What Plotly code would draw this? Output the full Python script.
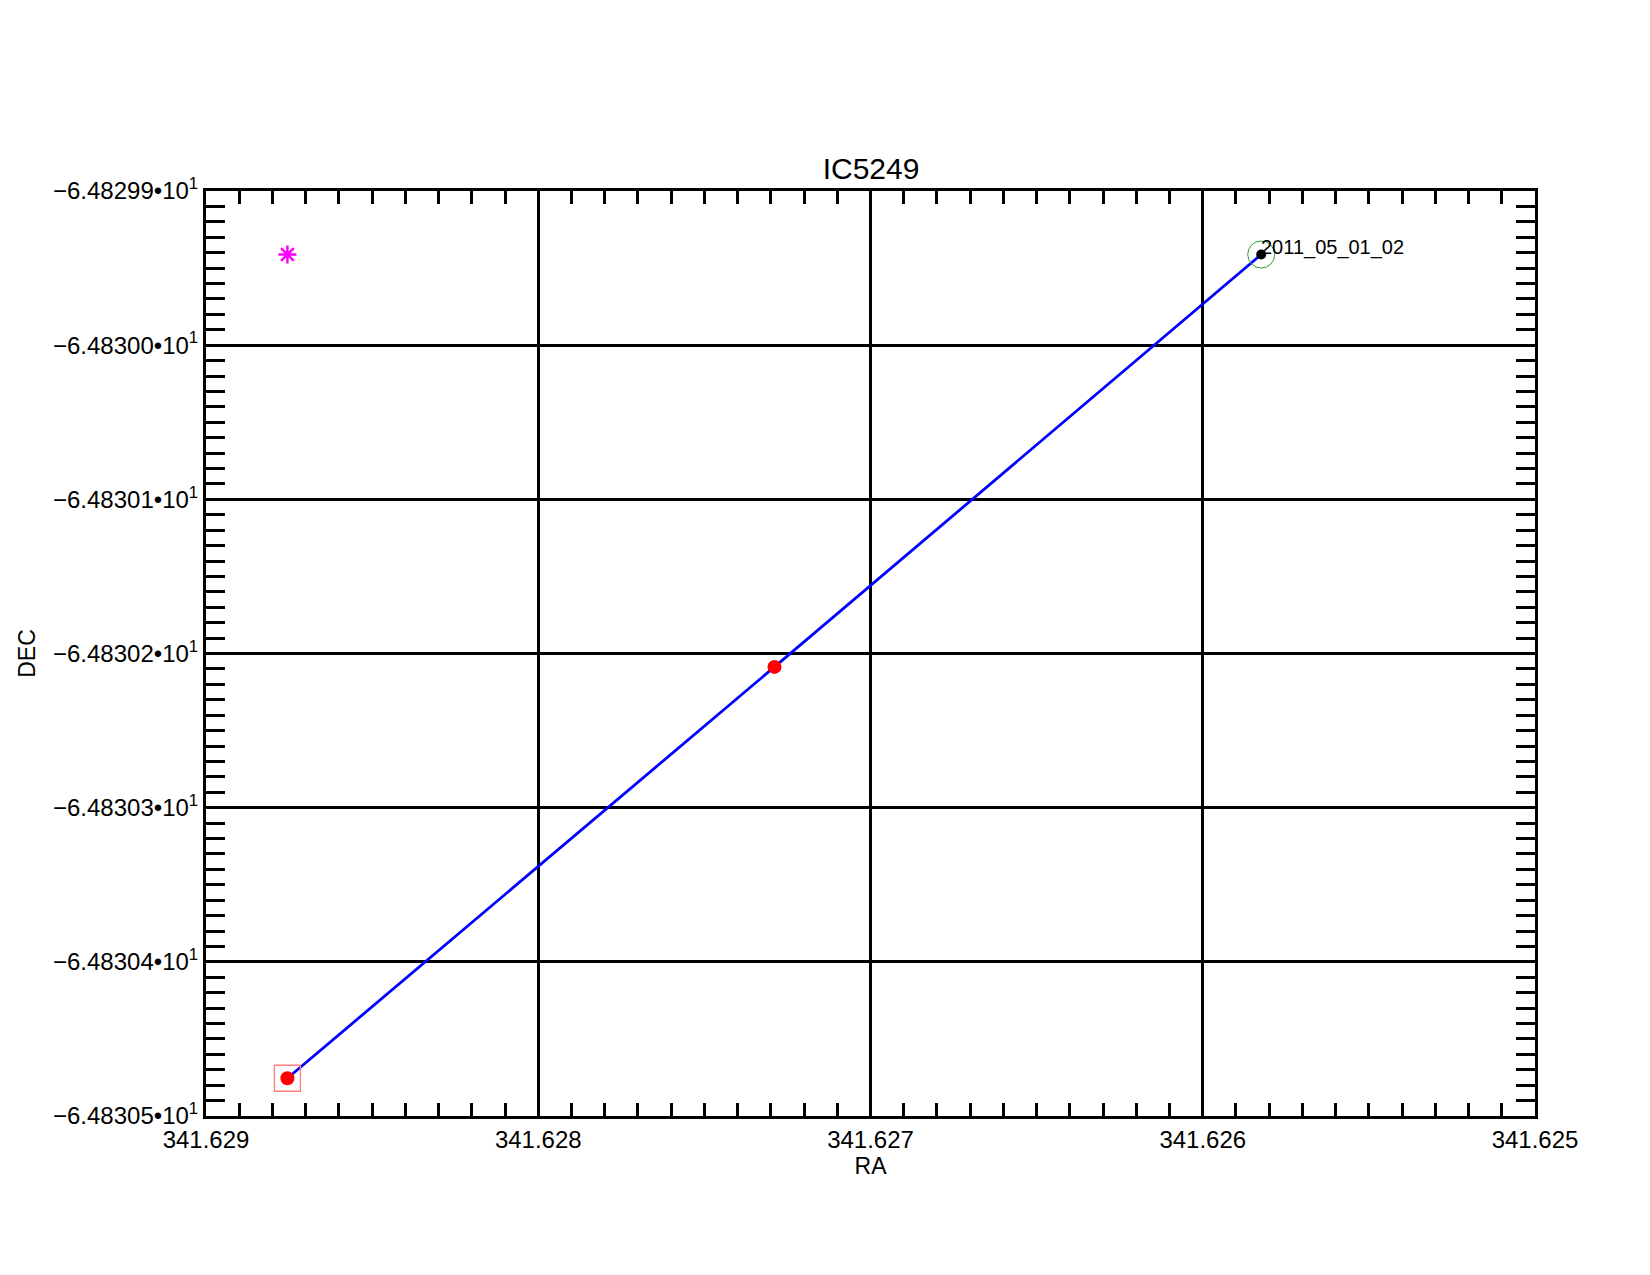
import plotly.graph_objects as go

# ---- data ----
track_ra = [341.628755, 341.627289, 341.625824]
track_dec = [-64.8304755, -64.8302087, -64.8299412]
start_ra = [341.628755]
start_dec = [-64.8304755]
end_ra = [341.625824]
end_dec = [-64.8299412]
ref_ra = [341.628755]
ref_dec = [-64.8299412]
end_label = "2011_05_01_02"

x_ticks = [341.629, 341.628, 341.627, 341.626, 341.625]
x_tick_labels = ["341.629", "341.628", "341.627", "341.626", "341.625"]
y_ticks = [-64.8299, -64.83, -64.8301, -64.8302, -64.8303, -64.8304, -64.8305]
y_tick_labels = ["\u22126.48299\u202210<sup>1</sup>", "\u22126.48300\u202210<sup>1</sup>",
                 "\u22126.48301\u202210<sup>1</sup>", "\u22126.48302\u202210<sup>1</sup>",
                 "\u22126.48303\u202210<sup>1</sup>", "\u22126.48304\u202210<sup>1</sup>",
                 "\u22126.48305\u202210<sup>1</sup>"]

FONT = "Liberation Sans, Arial, Helvetica, sans-serif"

fig = go.Figure()
fig.add_trace(go.Scatter(x=track_ra, y=track_dec, mode="lines",
                         line=dict(color="#0000ff", width=2.8), showlegend=False))
fig.add_trace(go.Scatter(x=track_ra[:2], y=track_dec[:2], mode="markers",
                         marker=dict(color="#ff0000", size=14), showlegend=False))
fig.add_trace(go.Scatter(x=start_ra, y=start_dec, mode="markers",
                         marker=dict(symbol="square-open", color="#ff7f7f", size=26,
                                     line=dict(width=1.3, color="#ff7f7f")), showlegend=False))
fig.add_trace(go.Scatter(x=end_ra, y=end_dec, mode="markers",
                         marker=dict(symbol="circle-open", color="#2ca02c", size=27,
                                     line=dict(width=1, color="#3a9a3a")), showlegend=False))
fig.add_trace(go.Scatter(x=end_ra, y=end_dec, mode="markers",
                         marker=dict(color="#000000", size=10), showlegend=False))
fig.add_trace(go.Scatter(x=ref_ra, y=ref_dec, mode="markers",
                         marker=dict(symbol="asterisk-open", color="#ff00ff", size=15,
                                     line=dict(width=2.5, color="#ff00ff")), showlegend=False))

fig.add_annotation(x=end_ra[0], y=end_dec[0], text=end_label, showarrow=False,
                   xanchor="left", yanchor="bottom", xshift=-2, yshift=-6,
                   font=dict(family=FONT, size=20, color="black"))

axis_common = dict(
    showline=True, linecolor="black", linewidth=3, mirror="ticks",
    showgrid=True, gridcolor="black", gridwidth=3, zeroline=False,
    ticks="inside", tickcolor="black", tickwidth=2.5,
    tickfont=dict(family=FONT, size=24, color="black"),
)

fig.update_xaxes(**axis_common, range=[341.629, 341.625], tickvals=x_ticks,
                 ticktext=x_tick_labels, ticklen=13,
                 minor=dict(dtick=0.0001, ticks="inside", ticklen=13, tickwidth=2.5,
                            tickcolor="black", showgrid=False),
                 title=dict(text="RA", font=dict(family=FONT, size=23, color="black"),
                            standoff=2))
fig.update_yaxes(**axis_common, range=[-64.8305, -64.8299], tickvals=y_ticks,
                 ticktext=y_tick_labels, ticklen=19,
                 minor=dict(dtick=0.00001, ticks="inside", ticklen=19, tickwidth=2.5,
                            tickcolor="black", showgrid=False),
                 title=dict(text="DEC", font=dict(family=FONT, size=23, color="black"),
                            standoff=11))

fig.update_layout(
    width=1650, height=1275,
    margin=dict(l=198, r=123, t=183, b=167, autoexpand=False),
    paper_bgcolor="white", plot_bgcolor="white",
    title=dict(text="IC5249", x=(871 - 8) / 1650, xanchor="center", y=1 - 160 / 1275,
               yanchor="middle", yref="container",
               font=dict(family=FONT, size=30, color="black")),
    font=dict(family=FONT, color="black"),
)

fig.write_html("out.html")
